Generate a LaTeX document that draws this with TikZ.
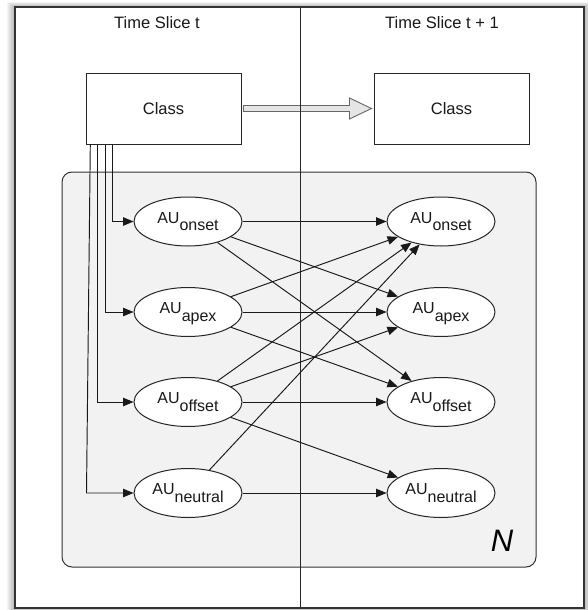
\documentclass[tikz,border=0pt]{standalone}
\usepackage{fontspec}
\setmainfont{Liberation Sans}
\usetikzlibrary{shapes.geometric,arrows.meta,calc}
\newcommand\AUtxt[1]{AU\raisebox{-7.5pt}{#1}}
\tikzset{
  titletext/.style={inner sep=0pt, text=black!90, font=\fontsize{16.5}{19}\selectfont},
  classbox/.style={draw=black!85, line width=1pt, fill=white, minimum width=155pt, minimum height=71pt, inner sep=0pt, text=black!90, font=\fontsize{16.5}{19}\selectfont},
  au/.style={ellipse, draw=black!85, line width=1pt, fill=white, minimum width=108pt, minimum height=49pt, inner sep=0pt, text height=11.5pt, text depth=8pt, text=black!90, font=\fontsize{16}{19}\selectfont},
  edge/.style={draw=black!90, line width=0.95pt, -{Triangle[length=10.5pt,width=8.5pt]}},
  hollow/.style={draw=black!60, fill=black!10, line width=0.9pt, line join=miter},
}
\begin{document}
\begin{tikzpicture}[x=1pt,y=-1pt]
\useasboundingbox (0,0) rectangle (587,610);
% shadow of the frame
\foreach \i in {1,...,8}{
  \fill[black,opacity=0.04] (15-\i,7-0.6*\i) rectangle (584+\i,608+0.6*\i);
}
\draw[fill=white, draw=black!80, line width=1.4pt] (15,7) rectangle (584,608);
% plate
\draw[fill=black!5, draw=black!80, line width=1pt, rounded corners=10pt] (62,172) rectangle (536,567);
% class nodes
\node[classbox] (c1) at (163.5,108.5) {Class};
\node[classbox] (c2) at (451.5,108.5) {Class};
% hollow arrow between class nodes
\coordinate (ha) at ($(c1.east)+(2,0)$);
\coordinate (hb) at ($(c2.west)+(-2,0)$);
\draw[hollow] ($(ha)+(0,-3)$) -- ($(hb)+(-22,-3)$) -- ($(hb)+(-22,-10.5)$) -- (hb)
  -- ($(hb)+(-22,10.5)$) -- ($(hb)+(-22,3)$) -- ($(ha)+(0,3)$) -- cycle;
% divider
\draw[draw=black!85, line width=1pt] (300,7) -- (300,608);
% titles
\node[titletext] (t1) at (157,23) {Time Slice t};
\node[titletext] (t2) at (442,23) {Time Slice t + 1};
% AU nodes
\node[au] (on1) at (188,221.5) {\AUtxt{onset}};
\node[au] (ap1) at (188,312) {\AUtxt{apex}};
\node[au] (of1) at (188,402) {\AUtxt{offset}};
\node[au] (ne1) at (188,493) {\AUtxt{neutral}};
\node[au] (on2) at (441,221.5) {\AUtxt{onset}};
\node[au] (ap2) at (441,312) {\AUtxt{apex}};
\node[au] (of2) at (441,402) {\AUtxt{offset}};
\node[au] (ne2) at (441,493) {\AUtxt{neutral}};
\node[inner sep=0pt, font=\fontsize{31}{31}\selectfont\itshape] (nlab) at (502,541) {N};
% class -> AU(t)
\draw[edge] ([xshift=26.5pt]c1.south west) |- (on1.west);
\draw[edge] ([xshift=19.7pt]c1.south west) |- (ap1.west);
\draw[edge] ([xshift=12.3pt]c1.south west) |- (of1.west);
\draw[edge] ([xshift=4.8pt]c1.south west) -- ([xshift=-47pt]ne1.west) -- (ne1.west);
% temporal edges
\draw[edge] (on1) -- (on2);
\draw[edge] (on1) -- (ap2);
\draw[edge] (on1) -- (of2);
\draw[edge] (ap1) -- (on2);
\draw[edge] (ap1) -- (ap2);
\draw[edge] (ap1) -- (of2);
\draw[edge] (of1) -- (on2);
\draw[edge] (of1) -- (ap2);
\draw[edge] (of1) -- (of2);
\draw[edge] (of1) -- (ne2);
\draw[edge] (ne1) -- (on2);
\draw[edge] (ne1) -- (ne2);
\end{tikzpicture}
\end{document}
